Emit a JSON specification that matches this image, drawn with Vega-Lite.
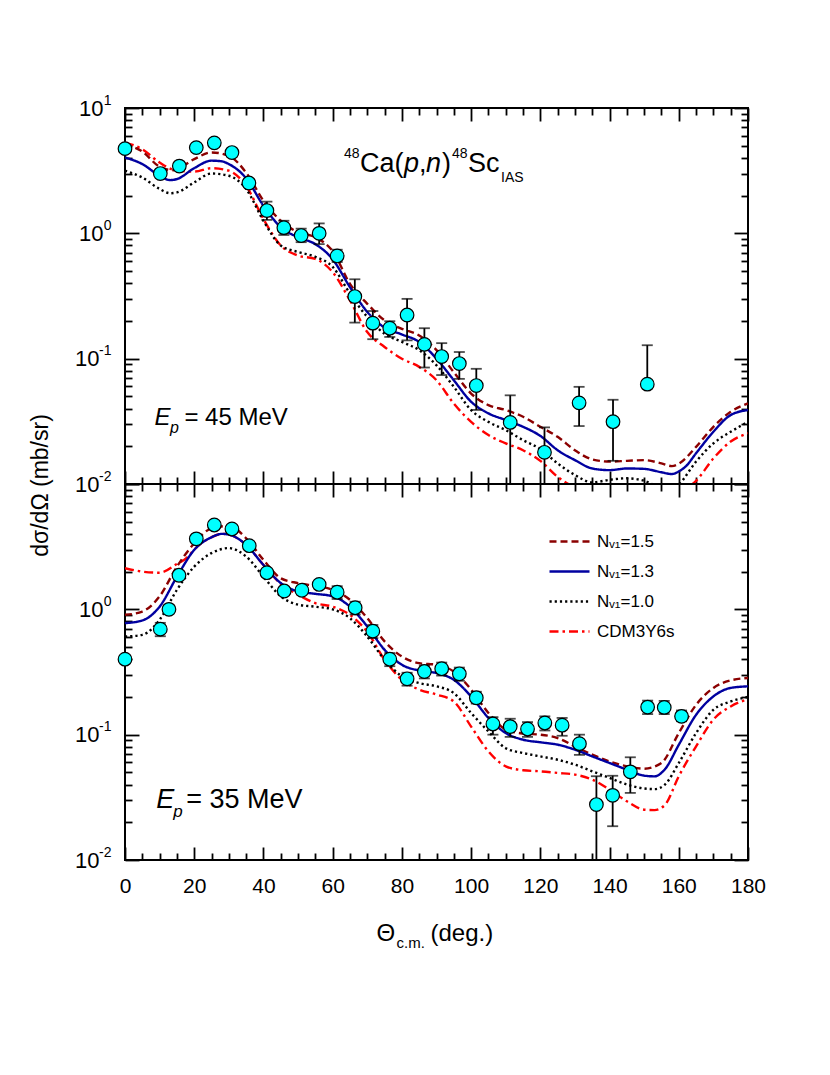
{
  "$schema": "https://vega.github.io/schema/vega-lite/v6.json",
  "padding": {"left": 28, "top": 92, "right": 5, "bottom": 5},
  "bounds": "flush",
  "spacing": 0,
  "config": {
    "view": {"stroke": "black", "strokeWidth": 2},
    "font": "Liberation Sans",
    "axis": {"domain": false, "grid": false, "tickColor": "black", "tickWidth": 1.8, "labelColor": "black", "labelFont": "Liberation Sans", "titleFont": "Liberation Sans", "titleFontWeight": "normal", "titleColor": "black", "labelFlush": false, "labelOverlap": false}
  },
  "datasets": {
    "c45": [
      {"m":"CDM3Y6s","t":0,"v":5.3},{"m":"CDM3Y6s","t":5,"v":4.69},{"m":"CDM3Y6s","t":10,"v":3.67},{"m":"CDM3Y6s","t":15,"v":3.16},{"m":"CDM3Y6s","t":20,"v":3.11},{"m":"CDM3Y6s","t":25,"v":3.31},{"m":"CDM3Y6s","t":30,"v":3.16},{"m":"CDM3Y6s","t":35,"v":2.39},{"m":"CDM3Y6s","t":40,"v":1.30},{"m":"CDM3Y6s","t":45,"v":0.80},{"m":"CDM3Y6s","t":50,"v":0.665},{"m":"CDM3Y6s","t":55,"v":0.625},{"m":"CDM3Y6s","t":60,"v":0.49},{"m":"CDM3Y6s","t":65,"v":0.292},{"m":"CDM3Y6s","t":70,"v":0.163},{"m":"CDM3Y6s","t":75,"v":0.124},{"m":"CDM3Y6s","t":80,"v":0.100},{"m":"CDM3Y6s","t":85,"v":0.086},{"m":"CDM3Y6s","t":90,"v":0.0673},{"m":"CDM3Y6s","t":95,"v":0.0438},{"m":"CDM3Y6s","t":100,"v":0.0313},{"m":"CDM3Y6s","t":105,"v":0.0246},{"m":"CDM3Y6s","t":110,"v":0.0211},{"m":"CDM3Y6s","t":115,"v":0.0186},{"m":"CDM3Y6s","t":120,"v":0.0153},{"m":"CDM3Y6s","t":125,"v":0.0114},{"m":"CDM3Y6s","t":130,"v":0.0094},{"m":"CDM3Y6s","t":135,"v":0.0082},{"m":"CDM3Y6s","t":140,"v":0.0075},{"m":"CDM3Y6s","t":145,"v":0.0072},{"m":"CDM3Y6s","t":150,"v":0.0070},{"m":"CDM3Y6s","t":155,"v":0.0070},{"m":"CDM3Y6s","t":160,"v":0.0078},{"m":"CDM3Y6s","t":163,"v":0.0095},{"m":"CDM3Y6s","t":165,"v":0.0106},{"m":"CDM3Y6s","t":170,"v":0.016},{"m":"CDM3Y6s","t":175,"v":0.0218},{"m":"CDM3Y6s","t":180,"v":0.0254},
      {"m":"N=1.0","t":0,"v":3.16},{"m":"N=1.0","t":5,"v":2.79},{"m":"N=1.0","t":10,"v":2.26},{"m":"N=1.0","t":13,"v":2.09},{"m":"N=1.0","t":15,"v":2.12},{"m":"N=1.0","t":20,"v":2.55},{"m":"N=1.0","t":25,"v":3.0},{"m":"N=1.0","t":30,"v":2.88},{"m":"N=1.0","t":35,"v":2.26},{"m":"N=1.0","t":40,"v":1.26},{"m":"N=1.0","t":45,"v":0.80},{"m":"N=1.0","t":50,"v":0.71},{"m":"N=1.0","t":55,"v":0.65},{"m":"N=1.0","t":60,"v":0.54},{"m":"N=1.0","t":65,"v":0.33},{"m":"N=1.0","t":70,"v":0.215},{"m":"N=1.0","t":75,"v":0.158},{"m":"N=1.0","t":80,"v":0.136},{"m":"N=1.0","t":85,"v":0.117},{"m":"N=1.0","t":90,"v":0.0885},{"m":"N=1.0","t":95,"v":0.0596},{"m":"N=1.0","t":100,"v":0.0389},{"m":"N=1.0","t":105,"v":0.0313},{"m":"N=1.0","t":110,"v":0.0269},{"m":"N=1.0","t":115,"v":0.0224},{"m":"N=1.0","t":120,"v":0.0190},{"m":"N=1.0","t":125,"v":0.0146},{"m":"N=1.0","t":130,"v":0.0118},{"m":"N=1.0","t":135,"v":0.0103},{"m":"N=1.0","t":140,"v":0.0108},{"m":"N=1.0","t":145,"v":0.0111},{"m":"N=1.0","t":150,"v":0.0106},{"m":"N=1.0","t":155,"v":0.0093},{"m":"N=1.0","t":158,"v":0.0090},{"m":"N=1.0","t":160,"v":0.0099},{"m":"N=1.0","t":165,"v":0.0151},{"m":"N=1.0","t":170,"v":0.0211},{"m":"N=1.0","t":175,"v":0.0261},{"m":"N=1.0","t":180,"v":0.0313},
      {"m":"N=1.5","t":0,"v":5.14},{"m":"N=1.5","t":5,"v":4.49},{"m":"N=1.5","t":10,"v":3.40},{"m":"N=1.5","t":14,"v":3.19},{"m":"N=1.5","t":20,"v":3.91},{"m":"N=1.5","t":25,"v":4.42},{"m":"N=1.5","t":30,"v":4.15},{"m":"N=1.5","t":35,"v":3.05},{"m":"N=1.5","t":40,"v":1.82},{"m":"N=1.5","t":45,"v":1.26},{"m":"N=1.5","t":50,"v":1.02},{"m":"N=1.5","t":55,"v":0.93},{"m":"N=1.5","t":60,"v":0.72},{"m":"N=1.5","t":65,"v":0.395},{"m":"N=1.5","t":70,"v":0.274},{"m":"N=1.5","t":75,"v":0.202},{"m":"N=1.5","t":80,"v":0.173},{"m":"N=1.5","t":85,"v":0.153},{"m":"N=1.5","t":90,"v":0.117},{"m":"N=1.5","t":95,"v":0.078},{"m":"N=1.5","t":100,"v":0.0527},{"m":"N=1.5","t":105,"v":0.0426},{"m":"N=1.5","t":110,"v":0.0389},{"m":"N=1.5","t":115,"v":0.0344},{"m":"N=1.5","t":120,"v":0.0286},{"m":"N=1.5","t":125,"v":0.0238},{"m":"N=1.5","t":130,"v":0.0186},{"m":"N=1.5","t":135,"v":0.0157},{"m":"N=1.5","t":140,"v":0.0151},{"m":"N=1.5","t":145,"v":0.0153},{"m":"N=1.5","t":150,"v":0.0155},{"m":"N=1.5","t":155,"v":0.0146},{"m":"N=1.5","t":158,"v":0.0139},{"m":"N=1.5","t":160,"v":0.0145},{"m":"N=1.5","t":165,"v":0.0198},{"m":"N=1.5","t":170,"v":0.0286},{"m":"N=1.5","t":175,"v":0.0377},{"m":"N=1.5","t":180,"v":0.044},
      {"m":"N=1.3","t":0,"v":4.03},{"m":"N=1.3","t":5,"v":3.57},{"m":"N=1.3","t":10,"v":2.88},{"m":"N=1.3","t":13,"v":2.66},{"m":"N=1.3","t":15,"v":2.71},{"m":"N=1.3","t":20,"v":3.31},{"m":"N=1.3","t":25,"v":3.8},{"m":"N=1.3","t":28,"v":3.75},{"m":"N=1.3","t":30,"v":3.57},{"m":"N=1.3","t":35,"v":2.75},{"m":"N=1.3","t":40,"v":1.66},{"m":"N=1.3","t":45,"v":1.12},{"m":"N=1.3","t":50,"v":0.93},{"m":"N=1.3","t":55,"v":0.82},{"m":"N=1.3","t":60,"v":0.62},{"m":"N=1.3","t":65,"v":0.372},{"m":"N=1.3","t":70,"v":0.236},{"m":"N=1.3","t":75,"v":0.177},{"m":"N=1.3","t":80,"v":0.156},{"m":"N=1.3","t":85,"v":0.136},{"m":"N=1.3","t":90,"v":0.100},{"m":"N=1.3","t":95,"v":0.0673},{"m":"N=1.3","t":100,"v":0.0453},{"m":"N=1.3","t":105,"v":0.0366},{"m":"N=1.3","t":110,"v":0.0324},{"m":"N=1.3","t":115,"v":0.0286},{"m":"N=1.3","t":120,"v":0.0242},{"m":"N=1.3","t":125,"v":0.0186},{"m":"N=1.3","t":130,"v":0.0155},{"m":"N=1.3","t":135,"v":0.0133},{"m":"N=1.3","t":140,"v":0.0129},{"m":"N=1.3","t":145,"v":0.0133},{"m":"N=1.3","t":150,"v":0.0132},{"m":"N=1.3","t":155,"v":0.0124},{"m":"N=1.3","t":158,"v":0.0120},{"m":"N=1.3","t":160,"v":0.0126},{"m":"N=1.3","t":162,"v":0.0138},{"m":"N=1.3","t":165,"v":0.0176},{"m":"N=1.3","t":170,"v":0.0261},{"m":"N=1.3","t":175,"v":0.0355},{"m":"N=1.3","t":180,"v":0.0389}
    ],
    "c35": [
      {"m":"CDM3Y6s","t":0,"v":2.13},{"m":"CDM3Y6s","t":5,"v":2.0},{"m":"CDM3Y6s","t":10,"v":1.96},{"m":"CDM3Y6s","t":15,"v":2.3},{"m":"CDM3Y6s","t":18,"v":2.6},{"m":"CDM3Y6s","t":20,"v":3.0},{"m":"CDM3Y6s","t":25,"v":3.76},{"m":"CDM3Y6s","t":28,"v":4.0},{"m":"CDM3Y6s","t":30,"v":3.95},{"m":"CDM3Y6s","t":35,"v":3.27},{"m":"CDM3Y6s","t":40,"v":2.26},{"m":"CDM3Y6s","t":45,"v":1.6},{"m":"CDM3Y6s","t":50,"v":1.31},{"m":"CDM3Y6s","t":55,"v":1.12},{"m":"CDM3Y6s","t":60,"v":1.05},{"m":"CDM3Y6s","t":65,"v":0.904},{"m":"CDM3Y6s","t":70,"v":0.66},{"m":"CDM3Y6s","t":75,"v":0.396},{"m":"CDM3Y6s","t":80,"v":0.274},{"m":"CDM3Y6s","t":85,"v":0.229},{"m":"CDM3Y6s","t":90,"v":0.209},{"m":"CDM3Y6s","t":95,"v":0.184},{"m":"CDM3Y6s","t":100,"v":0.116},{"m":"CDM3Y6s","t":105,"v":0.0736},{"m":"CDM3Y6s","t":110,"v":0.0559},{"m":"CDM3Y6s","t":115,"v":0.052},{"m":"CDM3Y6s","t":120,"v":0.051},{"m":"CDM3Y6s","t":125,"v":0.0495},{"m":"CDM3Y6s","t":130,"v":0.048},{"m":"CDM3Y6s","t":135,"v":0.0438},{"m":"CDM3Y6s","t":140,"v":0.0364},{"m":"CDM3Y6s","t":145,"v":0.0294},{"m":"CDM3Y6s","t":150,"v":0.0252},{"m":"CDM3Y6s","t":153,"v":0.025},{"m":"CDM3Y6s","t":156,"v":0.0275},{"m":"CDM3Y6s","t":160,"v":0.0466},{"m":"CDM3Y6s","t":165,"v":0.0807},{"m":"CDM3Y6s","t":170,"v":0.132},{"m":"CDM3Y6s","t":175,"v":0.168},{"m":"CDM3Y6s","t":180,"v":0.192},
      {"m":"N=1.0","t":0,"v":0.607},{"m":"N=1.0","t":5,"v":0.626},{"m":"N=1.0","t":10,"v":0.825},{"m":"N=1.0","t":15,"v":1.43},{"m":"N=1.0","t":20,"v":2.19},{"m":"N=1.0","t":25,"v":2.81},{"m":"N=1.0","t":30,"v":3.08},{"m":"N=1.0","t":35,"v":2.64},{"m":"N=1.0","t":40,"v":1.82},{"m":"N=1.0","t":45,"v":1.27},{"m":"N=1.0","t":50,"v":1.09},{"m":"N=1.0","t":55,"v":1.05},{"m":"N=1.0","t":60,"v":1.0},{"m":"N=1.0","t":65,"v":0.85},{"m":"N=1.0","t":70,"v":0.607},{"m":"N=1.0","t":75,"v":0.396},{"m":"N=1.0","t":80,"v":0.292},{"m":"N=1.0","t":85,"v":0.258},{"m":"N=1.0","t":90,"v":0.243},{"m":"N=1.0","t":95,"v":0.215},{"m":"N=1.0","t":100,"v":0.149},{"m":"N=1.0","t":105,"v":0.106},{"m":"N=1.0","t":110,"v":0.078},{"m":"N=1.0","t":115,"v":0.0714},{"m":"N=1.0","t":120,"v":0.0671},{"m":"N=1.0","t":125,"v":0.0631},{"m":"N=1.0","t":130,"v":0.0576},{"m":"N=1.0","t":135,"v":0.051},{"m":"N=1.0","t":140,"v":0.0452},{"m":"N=1.0","t":145,"v":0.040},{"m":"N=1.0","t":150,"v":0.0372},{"m":"N=1.0","t":153,"v":0.0368},{"m":"N=1.0","t":156,"v":0.040},{"m":"N=1.0","t":160,"v":0.0594},{"m":"N=1.0","t":165,"v":0.103},{"m":"N=1.0","t":170,"v":0.158},{"m":"N=1.0","t":175,"v":0.184},{"m":"N=1.0","t":180,"v":0.2},
      {"m":"N=1.5","t":0,"v":0.904},{"m":"N=1.5","t":5,"v":0.96},{"m":"N=1.5","t":10,"v":1.27},{"m":"N=1.5","t":15,"v":2.19},{"m":"N=1.5","t":20,"v":3.36},{"m":"N=1.5","t":25,"v":4.43},{"m":"N=1.5","t":30,"v":4.63},{"m":"N=1.5","t":35,"v":3.69},{"m":"N=1.5","t":40,"v":2.48},{"m":"N=1.5","t":45,"v":1.77},{"m":"N=1.5","t":50,"v":1.62},{"m":"N=1.5","t":55,"v":1.54},{"m":"N=1.5","t":60,"v":1.43},{"m":"N=1.5","t":65,"v":1.19},{"m":"N=1.5","t":70,"v":0.85},{"m":"N=1.5","t":75,"v":0.555},{"m":"N=1.5","t":80,"v":0.42},{"m":"N=1.5","t":85,"v":0.372},{"m":"N=1.5","t":90,"v":0.361},{"m":"N=1.5","t":95,"v":0.319},{"m":"N=1.5","t":100,"v":0.229},{"m":"N=1.5","t":105,"v":0.149},{"m":"N=1.5","t":110,"v":0.110},{"m":"N=1.5","t":115,"v":0.102},{"m":"N=1.5","t":120,"v":0.100},{"m":"N=1.5","t":125,"v":0.094},{"m":"N=1.5","t":130,"v":0.0807},{"m":"N=1.5","t":135,"v":0.0693},{"m":"N=1.5","t":140,"v":0.0612},{"m":"N=1.5","t":145,"v":0.0559},{"m":"N=1.5","t":150,"v":0.0535},{"m":"N=1.5","t":155,"v":0.0594},{"m":"N=1.5","t":160,"v":0.103},{"m":"N=1.5","t":165,"v":0.173},{"m":"N=1.5","t":170,"v":0.236},{"m":"N=1.5","t":175,"v":0.271},{"m":"N=1.5","t":180,"v":0.283},
      {"m":"N=1.3","t":0,"v":0.776},{"m":"N=1.3","t":5,"v":0.815},{"m":"N=1.3","t":10,"v":1.05},{"m":"N=1.3","t":15,"v":1.82},{"m":"N=1.3","t":20,"v":2.98},{"m":"N=1.3","t":25,"v":3.76},{"m":"N=1.3","t":28,"v":4.0},{"m":"N=1.3","t":30,"v":3.95},{"m":"N=1.3","t":35,"v":3.27},{"m":"N=1.3","t":40,"v":2.26},{"m":"N=1.3","t":45,"v":1.62},{"m":"N=1.3","t":50,"v":1.39},{"m":"N=1.3","t":55,"v":1.33},{"m":"N=1.3","t":60,"v":1.27},{"m":"N=1.3","t":65,"v":1.05},{"m":"N=1.3","t":70,"v":0.73},{"m":"N=1.3","t":75,"v":0.475},{"m":"N=1.3","t":80,"v":0.361},{"m":"N=1.3","t":85,"v":0.325},{"m":"N=1.3","t":90,"v":0.31},{"m":"N=1.3","t":95,"v":0.274},{"m":"N=1.3","t":100,"v":0.202},{"m":"N=1.3","t":105,"v":0.136},{"m":"N=1.3","t":110,"v":0.103},{"m":"N=1.3","t":115,"v":0.0912},{"m":"N=1.3","t":120,"v":0.0869},{"m":"N=1.3","t":125,"v":0.0832},{"m":"N=1.3","t":130,"v":0.0759},{"m":"N=1.3","t":135,"v":0.0671},{"m":"N=1.3","t":140,"v":0.0594},{"m":"N=1.3","t":145,"v":0.0526},{"m":"N=1.3","t":150,"v":0.0471},{"m":"N=1.3","t":153,"v":0.0465},{"m":"N=1.3","t":156,"v":0.053},{"m":"N=1.3","t":160,"v":0.083},{"m":"N=1.3","t":165,"v":0.144},{"m":"N=1.3","t":170,"v":0.202},{"m":"N=1.3","t":175,"v":0.236},{"m":"N=1.3","t":180,"v":0.243}
    ],
    "p45": [
      {"t":0,"v":4.74,"lo":4.41,"hi":5.07},{"t":10.2,"v":3.0,"lo":2.79,"hi":3.21},{"t":15.7,"v":3.44,"lo":3.2,"hi":3.68},{"t":20.6,"v":4.83,"lo":4.49,"hi":5.17},{"t":25.8,"v":5.27,"lo":4.9,"hi":5.64},{"t":30.9,"v":4.41,"lo":4.1,"hi":4.72},{"t":35.8,"v":2.52,"lo":2.34,"hi":2.7},{"t":41.0,"v":1.52,"lo":1.28,"hi":1.79},{"t":45.9,"v":1.11,"lo":0.97,"hi":1.26},{"t":50.9,"v":0.96,"lo":0.85,"hi":1.09},{"t":56.1,"v":1.0,"lo":0.82,"hi":1.2},{"t":61.3,"v":0.66,"lo":0.59,"hi":0.74},{"t":66.4,"v":0.313,"lo":0.194,"hi":0.43},{"t":71.6,"v":0.192,"lo":0.143,"hi":0.24},{"t":76.5,"v":0.175,"lo":0.149,"hi":0.199},{"t":81.5,"v":0.223,"lo":0.14,"hi":0.30},{"t":86.5,"v":0.130,"lo":0.085,"hi":0.175},{"t":91.5,"v":0.104,"lo":0.074,"hi":0.133},{"t":96.6,"v":0.0914,"lo":0.069,"hi":0.113},{"t":101.5,"v":0.061,"lo":0.039,"hi":0.083},{"t":111.3,"v":0.031,"lo":0.001,"hi":0.051},{"t":121.2,"v":0.0179,"lo":0.001,"hi":0.0283},{"t":131.2,"v":0.0444,"lo":0.029,"hi":0.0596},{"t":141.0,"v":0.0314,"lo":0.0153,"hi":0.047},{"t":150.9,"v":0.0626,"lo":0.058,"hi":0.128}
    ],
    "p35": [
      {"t":0,"v":0.40,"lo":0.372,"hi":0.428},{"t":10.2,"v":0.695,"lo":0.61,"hi":0.78},{"t":12.7,"v":1.0,"lo":0.93,"hi":1.07},{"t":15.6,"v":1.87,"lo":1.74,"hi":2.0},{"t":20.6,"v":3.65,"lo":3.4,"hi":3.9},{"t":25.8,"v":4.71,"lo":4.38,"hi":5.04},{"t":30.9,"v":4.38,"lo":4.07,"hi":4.69},{"t":35.9,"v":3.22,"lo":3.0,"hi":3.45},{"t":41.0,"v":1.96,"lo":1.82,"hi":2.1},{"t":46.0,"v":1.40,"lo":1.3,"hi":1.5},{"t":51.1,"v":1.42,"lo":1.32,"hi":1.52},{"t":56.1,"v":1.58,"lo":1.47,"hi":1.69},{"t":61.3,"v":1.37,"lo":1.21,"hi":1.53},{"t":66.5,"v":1.03,"lo":0.91,"hi":1.15},{"t":71.6,"v":0.67,"lo":0.59,"hi":0.75},{"t":76.5,"v":0.40,"lo":0.352,"hi":0.448},{"t":81.5,"v":0.279,"lo":0.246,"hi":0.312},{"t":86.5,"v":0.319,"lo":0.281,"hi":0.357},{"t":91.5,"v":0.336,"lo":0.296,"hi":0.376},{"t":96.6,"v":0.306,"lo":0.269,"hi":0.343},{"t":101.5,"v":0.197,"lo":0.177,"hi":0.22},{"t":106.3,"v":0.1217,"lo":0.10,"hi":0.138},{"t":111.3,"v":0.116,"lo":0.096,"hi":0.134},{"t":116.3,"v":0.111,"lo":0.096,"hi":0.126},{"t":121.3,"v":0.124,"lo":0.108,"hi":0.14},{"t":126.3,"v":0.119,"lo":0.098,"hi":0.136},{"t":131.3,"v":0.0848,"lo":0.069,"hi":0.1},{"t":136.2,"v":0.0277,"lo":0.001,"hi":0.0466},{"t":140.9,"v":0.0328,"lo":0.0186,"hi":0.047},{"t":146.0,"v":0.0505,"lo":0.0343,"hi":0.066},{"t":151.0,"v":0.166,"lo":0.146,"hi":0.187},{"t":155.8,"v":0.165,"lo":0.146,"hi":0.186},{"t":160.8,"v":0.14,"lo":0.128,"hi":0.156}
    ]
  },
  "resolve": {"scale": {"color": "independent", "strokeDash": "independent"}},
  "vconcat": [
    {
      "width": 623, "height": 376,
      "resolve": {"axis": {"x": "independent", "y": "independent"}},
      "layer": [
        {
          "data": {"name": "c45"},
          "mark": {"type": "line", "clip": true, "interpolate": "monotone", "strokeWidth": 2.4},
          "encoding": {
            "x": {"field": "t", "type": "quantitative", "scale": {"domain": [0, 180], "nice": false, "zero": false},
              "axis": {"orient": "bottom", "values": [0,5,10,15,20,25,30,35,40,45,50,55,60,65,70,75,80,85,90,95,100,105,110,115,120,125,130,135,140,145,150,155,160,165,170,175,180], "tickSize": {"condition": {"test": "datum.value % 20 == 0", "value": -13}, "value": -7}, "labels": false, "title": null}},
            "y": {"field": "v", "type": "quantitative", "scale": {"type": "log", "domain": [0.01, 10], "nice": false},
              "axis": {"orient": "left", "values": [0.01,0.02,0.03,0.04,0.05,0.06,0.07,0.08,0.09,0.1,0.2,0.3,0.4,0.5,0.6,0.7,0.8,0.9,1,2,3,4,5,6,7,8,9,10],
                "tickSize": {"condition": {"test": "datum.value == 0.01 || datum.value == 0.1 || datum.value == 1 || datum.value == 10", "value": -14}, "value": -7},
                "labelExpr": "(datum.value == 0.01 || datum.value == 0.1 || datum.value == 1 || datum.value == 10) ? '10' : ''",
                "labelFontSize": 22,
                "labelPadding": {"condition": {"test": "datum.value < 0.5", "value": 40}, "value": 36},
                "title": "dσ/dΩ (mb/sr)", "titleFontSize": 23, "titleX": -73, "titleY": 377, "titleAlign": "center", "titleBaseline": "bottom"}},
            "color": {"field": "m", "type": "nominal", "scale": {"domain": ["N=1.5", "N=1.3", "N=1.0", "CDM3Y6s"], "range": ["#8B0000", "#0000A0", "#000000", "#FF0000"]}, "legend": null},
            "strokeDash": {"field": "m", "type": "nominal", "scale": {"domain": ["N=1.5", "N=1.3", "N=1.0", "CDM3Y6s"], "range": [[7, 4], [1, 0], [2.2, 3], [9, 4, 2.5, 4]]}, "legend": null}
          }
        },
        {
          "data": {"name": "p45"},
          "mark": {"type": "errorbar", "color": "black", "ticks": true, "size": 11, "thickness": 1.8, "clip": true},
          "encoding": {
            "x": {"field": "t", "type": "quantitative", "scale": {"domain": [0, 180], "nice": false, "zero": false},
              "axis": {"orient": "top", "values": [0,5,10,15,20,25,30,35,40,45,50,55,60,65,70,75,80,85,90,95,100,105,110,115,120,125,130,135,140,145,150,155,160,165,170,175,180], "tickSize": {"condition": {"test": "datum.value % 20 == 0", "value": -13}, "value": -7}, "labels": false, "title": null}},
            "y": {"field": "lo", "type": "quantitative", "scale": {"type": "log", "domain": [0.01, 10], "nice": false},
              "axis": {"orient": "right", "values": [0.01,0.02,0.03,0.04,0.05,0.06,0.07,0.08,0.09,0.1,0.2,0.3,0.4,0.5,0.6,0.7,0.8,0.9,1,2,3,4,5,6,7,8,9,10],
                "tickSize": {"condition": {"test": "datum.value == 0.01 || datum.value == 0.1 || datum.value == 1 || datum.value == 10", "value": -14}, "value": -7},
                "labels": false, "title": null}},
            "y2": {"field": "hi"}
          }
        },
        {
          "data": {"name": "p45"},
          "mark": {"type": "point", "shape": "circle", "filled": true, "fill": "#00FFFF", "stroke": "black", "strokeWidth": 1.2, "size": 185, "opacity": 1},
          "encoding": {
            "x": {"field": "t", "type": "quantitative", "scale": {"domain": [0, 180], "nice": false, "zero": false}, "axis": null},
            "y": {"field": "v", "type": "quantitative", "scale": {"type": "log", "domain": [0.01, 10], "nice": false},
              "axis": {"orient": "left", "values": [0.01, 0.1, 1, 10], "ticks": false, "tickSize": 0, "labelPadding": 14, "labelOffset": -8, "labelFontSize": 14,
                "labelExpr": "datum.value == 10 ? '1' : datum.value == 1 ? '0' : datum.value == 0.1 ? '-1' : '-2'", "title": null}}
          }
        },
        {"data": {"values": [{}]}, "mark": {"type": "text", "text": "E", "fontSize": 24, "fontStyle": "italic", "align": "left", "baseline": "alphabetic", "color": "black"},
          "encoding": {"x": {"datum": 8.5, "type": "quantitative", "scale": {"domain": [0, 180], "nice": false, "zero": false}, "axis": null}, "y": {"datum": 0.0295, "type": "quantitative", "scale": {"type": "log", "domain": [0.01, 10], "nice": false}, "axis": null}}},
        {"data": {"values": [{}]}, "mark": {"type": "text", "text": "p", "fontSize": 16, "fontStyle": "italic", "align": "left", "baseline": "alphabetic", "dx": 15.5, "dy": 8, "color": "black"},
          "encoding": {"x": {"datum": 8.5, "type": "quantitative", "scale": {"domain": [0, 180], "nice": false, "zero": false}, "axis": null}, "y": {"datum": 0.0295, "type": "quantitative", "scale": {"type": "log", "domain": [0.01, 10], "nice": false}, "axis": null}}},
        {"data": {"values": [{}]}, "mark": {"type": "text", "text": "= 45 MeV", "fontSize": 24, "align": "left", "baseline": "alphabetic", "dx": 30, "color": "black"},
          "encoding": {"x": {"datum": 8.5, "type": "quantitative", "scale": {"domain": [0, 180], "nice": false, "zero": false}, "axis": null}, "y": {"datum": 0.0295, "type": "quantitative", "scale": {"type": "log", "domain": [0.01, 10], "nice": false}, "axis": null}}},
        {"data": {"values": [{}]}, "mark": {"type": "text", "text": "48", "fontSize": 14, "align": "left", "baseline": "alphabetic", "dx": 1, "dy": -14, "color": "black"},
          "encoding": {"x": {"datum": 63, "type": "quantitative", "scale": {"domain": [0, 180], "nice": false, "zero": false}, "axis": null}, "y": {"datum": 3.097, "type": "quantitative", "scale": {"type": "log", "domain": [0.01, 10], "nice": false}, "axis": null}}},
        {"data": {"values": [{}]}, "mark": {"type": "text", "text": "Ca(", "fontSize": 27, "align": "left", "baseline": "alphabetic", "dx": 17, "color": "black"},
          "encoding": {"x": {"datum": 63, "type": "quantitative", "scale": {"domain": [0, 180], "nice": false, "zero": false}, "axis": null}, "y": {"datum": 3.097, "type": "quantitative", "scale": {"type": "log", "domain": [0.01, 10], "nice": false}, "axis": null}}},
        {"data": {"values": [{}]}, "mark": {"type": "text", "text": "p", "fontSize": 27, "fontStyle": "italic", "align": "left", "baseline": "alphabetic", "dx": 61, "color": "black"},
          "encoding": {"x": {"datum": 63, "type": "quantitative", "scale": {"domain": [0, 180], "nice": false, "zero": false}, "axis": null}, "y": {"datum": 3.097, "type": "quantitative", "scale": {"type": "log", "domain": [0.01, 10], "nice": false}, "axis": null}}},
        {"data": {"values": [{}]}, "mark": {"type": "text", "text": ",", "fontSize": 27, "align": "left", "baseline": "alphabetic", "dx": 76, "color": "black"},
          "encoding": {"x": {"datum": 63, "type": "quantitative", "scale": {"domain": [0, 180], "nice": false, "zero": false}, "axis": null}, "y": {"datum": 3.097, "type": "quantitative", "scale": {"type": "log", "domain": [0.01, 10], "nice": false}, "axis": null}}},
        {"data": {"values": [{}]}, "mark": {"type": "text", "text": "n", "fontSize": 27, "fontStyle": "italic", "align": "left", "baseline": "alphabetic", "dx": 83, "color": "black"},
          "encoding": {"x": {"datum": 63, "type": "quantitative", "scale": {"domain": [0, 180], "nice": false, "zero": false}, "axis": null}, "y": {"datum": 3.097, "type": "quantitative", "scale": {"type": "log", "domain": [0.01, 10], "nice": false}, "axis": null}}},
        {"data": {"values": [{}]}, "mark": {"type": "text", "text": ")", "fontSize": 27, "align": "left", "baseline": "alphabetic", "dx": 99, "color": "black"},
          "encoding": {"x": {"datum": 63, "type": "quantitative", "scale": {"domain": [0, 180], "nice": false, "zero": false}, "axis": null}, "y": {"datum": 3.097, "type": "quantitative", "scale": {"type": "log", "domain": [0.01, 10], "nice": false}, "axis": null}}},
        {"data": {"values": [{}]}, "mark": {"type": "text", "text": "48", "fontSize": 14, "align": "left", "baseline": "alphabetic", "dx": 109, "dy": -14, "color": "black"},
          "encoding": {"x": {"datum": 63, "type": "quantitative", "scale": {"domain": [0, 180], "nice": false, "zero": false}, "axis": null}, "y": {"datum": 3.097, "type": "quantitative", "scale": {"type": "log", "domain": [0.01, 10], "nice": false}, "axis": null}}},
        {"data": {"values": [{}]}, "mark": {"type": "text", "text": "Sc", "fontSize": 27, "align": "left", "baseline": "alphabetic", "dx": 125, "color": "black"},
          "encoding": {"x": {"datum": 63, "type": "quantitative", "scale": {"domain": [0, 180], "nice": false, "zero": false}, "axis": null}, "y": {"datum": 3.097, "type": "quantitative", "scale": {"type": "log", "domain": [0.01, 10], "nice": false}, "axis": null}}},
        {"data": {"values": [{}]}, "mark": {"type": "text", "text": "IAS", "fontSize": 14, "align": "left", "baseline": "alphabetic", "dx": 158, "dy": 10, "color": "black"},
          "encoding": {"x": {"datum": 63, "type": "quantitative", "scale": {"domain": [0, 180], "nice": false, "zero": false}, "axis": null}, "y": {"datum": 3.097, "type": "quantitative", "scale": {"type": "log", "domain": [0.01, 10], "nice": false}, "axis": null}}}
      ]
    },
    {
      "width": 623, "height": 376,
      "resolve": {"axis": {"x": "independent", "y": "independent"}},
      "layer": [
        {
          "data": {"name": "c35"},
          "mark": {"type": "line", "clip": true, "interpolate": "monotone", "strokeWidth": 2.4},
          "encoding": {
            "x": {"field": "t", "type": "quantitative", "scale": {"domain": [0, 180], "nice": false, "zero": false},
              "axis": {"orient": "bottom", "values": [0,5,10,15,20,25,30,35,40,45,50,55,60,65,70,75,80,85,90,95,100,105,110,115,120,125,130,135,140,145,150,155,160,165,170,175,180], "tickSize": {"condition": {"test": "datum.value % 20 == 0", "value": -13}, "value": -7},
                "labelExpr": "datum.value % 20 == 0 ? datum.label : ''", "labelFontSize": 21, "labelPadding": 28,
                "title": "Θ", "titleFontSize": 24, "titleX": 251, "titleY": 80, "titleAlign": "left", "titleBaseline": "alphabetic"}},
            "y": {"field": "v", "type": "quantitative", "scale": {"type": "log", "domain": [0.01, 10], "nice": false},
              "axis": {"orient": "left", "values": [0.01,0.02,0.03,0.04,0.05,0.06,0.07,0.08,0.09,0.1,0.2,0.3,0.4,0.5,0.6,0.7,0.8,0.9,1,2,3,4,5,6,7,8,9,10],
                "tickSize": {"condition": {"test": "datum.value == 0.01 || datum.value == 0.1 || datum.value == 1 || datum.value == 10", "value": -14}, "value": -7},
                "labelExpr": "(datum.value == 0.01 || datum.value == 0.1 || datum.value == 1) ? '10' : ''",
                "labelFontSize": 22,
                "labelPadding": {"condition": {"test": "datum.value < 0.5", "value": 40}, "value": 36},
                "title": null}},
            "color": {"field": "m", "type": "nominal", "scale": {"domain": ["N=1.5", "N=1.3", "N=1.0", "CDM3Y6s"], "range": ["#8B0000", "#0000A0", "#000000", "#FF0000"]},
              "legend": {"orient": "none", "legendX": 423, "legendY": 36, "title": null, "symbolType": "stroke", "symbolSize": 1600, "symbolStrokeWidth": 2.4, "labelFontSize": 17, "labelFont": "Liberation Sans", "labelColor": "black", "labelOffset": 6, "rowPadding": -20,
                "labelExpr": "datum.label == 'CDM3Y6s' ? datum.label : 'Nᵥ₁' + substring(datum.label, 1)"}},
            "strokeDash": {"field": "m", "type": "nominal", "scale": {"domain": ["N=1.5", "N=1.3", "N=1.0", "CDM3Y6s"], "range": [[7, 4], [1, 0], [2.2, 3], [9, 4, 2.5, 4]]},
              "legend": {"orient": "none", "legendX": 423, "legendY": 36, "title": null, "symbolType": "stroke", "symbolSize": 1600, "symbolStrokeWidth": 2.4, "labelFontSize": 17, "labelFont": "Liberation Sans", "labelColor": "black", "labelOffset": 6, "rowPadding": -20,
                "labelExpr": "datum.label == 'CDM3Y6s' ? datum.label : 'Nᵥ₁' + substring(datum.label, 1)"}}
          }
        },
        {
          "data": {"name": "p35"},
          "mark": {"type": "errorbar", "color": "black", "ticks": true, "size": 11, "thickness": 1.8, "clip": true},
          "encoding": {
            "x": {"field": "t", "type": "quantitative", "scale": {"domain": [0, 180], "nice": false, "zero": false},
              "axis": {"orient": "top", "values": [0,5,10,15,20,25,30,35,40,45,50,55,60,65,70,75,80,85,90,95,100,105,110,115,120,125,130,135,140,145,150,155,160,165,170,175,180], "tickSize": {"condition": {"test": "datum.value % 20 == 0", "value": -13}, "value": -7}, "labels": false, "title": null}},
            "y": {"field": "lo", "type": "quantitative", "scale": {"type": "log", "domain": [0.01, 10], "nice": false},
              "axis": {"orient": "right", "values": [0.01,0.02,0.03,0.04,0.05,0.06,0.07,0.08,0.09,0.1,0.2,0.3,0.4,0.5,0.6,0.7,0.8,0.9,1,2,3,4,5,6,7,8,9,10],
                "tickSize": {"condition": {"test": "datum.value == 0.01 || datum.value == 0.1 || datum.value == 1 || datum.value == 10", "value": -14}, "value": -7},
                "labels": false, "title": null}},
            "y2": {"field": "hi"}
          }
        },
        {
          "data": {"name": "p35"},
          "mark": {"type": "point", "shape": "circle", "filled": true, "fill": "#00FFFF", "stroke": "black", "strokeWidth": 1.2, "size": 185, "opacity": 1},
          "encoding": {
            "x": {"field": "t", "type": "quantitative", "scale": {"domain": [0, 180], "nice": false, "zero": false},
              "axis": {"orient": "bottom", "ticks": false, "labels": false, "title": "c.m.", "titleFontSize": 15, "titleX": 271, "titleY": 87, "titleAlign": "left", "titleBaseline": "alphabetic"}},
            "y": {"field": "v", "type": "quantitative", "scale": {"type": "log", "domain": [0.01, 10], "nice": false},
              "axis": {"orient": "left", "values": [0.01, 0.1, 1], "ticks": false, "tickSize": 0, "labelPadding": 14, "labelOffset": -8, "labelFontSize": 14,
                "labelExpr": "datum.value == 1 ? '0' : datum.value == 0.1 ? '-1' : '-2'", "title": null}}
          }
        },
        {"data": {"values": [{}]}, "mark": {"type": "text", "text": "E", "fontSize": 27, "fontStyle": "italic", "align": "left", "baseline": "alphabetic", "color": "black"},
          "encoding": {"x": {"datum": 9.0, "type": "quantitative", "scale": {"domain": [0, 180], "nice": false, "zero": false},
              "axis": {"orient": "bottom", "ticks": false, "labels": false, "title": "(deg.)", "titleFontSize": 24, "titleX": 305, "titleY": 80, "titleAlign": "left", "titleBaseline": "alphabetic"}},
            "y": {"datum": 0.0261, "type": "quantitative", "scale": {"type": "log", "domain": [0.01, 10], "nice": false}, "axis": null}}},
        {"data": {"values": [{}]}, "mark": {"type": "text", "text": "p", "fontSize": 17, "fontStyle": "italic", "align": "left", "baseline": "alphabetic", "dx": 17, "dy": 9, "color": "black"},
          "encoding": {"x": {"datum": 9.0, "type": "quantitative", "scale": {"domain": [0, 180], "nice": false, "zero": false}, "axis": null}, "y": {"datum": 0.0261, "type": "quantitative", "scale": {"type": "log", "domain": [0.01, 10], "nice": false}, "axis": null}}},
        {"data": {"values": [{}]}, "mark": {"type": "text", "text": "= 35 MeV", "fontSize": 27, "align": "left", "baseline": "alphabetic", "dx": 30, "color": "black"},
          "encoding": {"x": {"datum": 9.0, "type": "quantitative", "scale": {"domain": [0, 180], "nice": false, "zero": false}, "axis": null}, "y": {"datum": 0.0261, "type": "quantitative", "scale": {"type": "log", "domain": [0.01, 10], "nice": false}, "axis": null}}}
      ]
    }
  ]
}
